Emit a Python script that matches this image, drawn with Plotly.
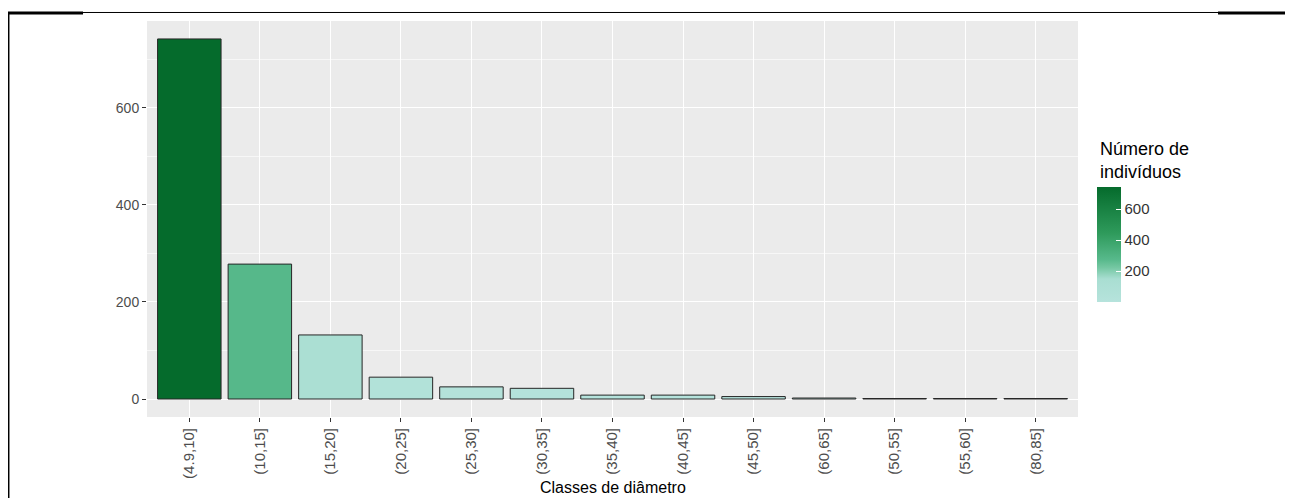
"""Distribuição diamétrica - número de indivíduos por classe de diâmetro
"""

import plotly.graph_objects as go

# dados
classes = ["(4.9,10]", "(10,15]", "(15,20]", "(20,25]", "(25,30]", "(30,35]",
           "(35,40]", "(40,45]", "(45,50]", "(60,65]", "(50,55]", "(55,60]", "(80,85]"]
n_individuos = [742, 278, 132, 45, 25, 22, 8, 8, 5, 2, 1, 1, 1]
cbar_ticks = [200, 400, 600]

FONT = "Liberation Sans, Arial, sans-serif"

escala = [
    [0.0, "#b6e3dc"],
    [0.2, "#a9ded2"],
    [0.3, "#74c7a2"],
    [0.37, "#57b98b"],
    [0.6, "#2e9a5b"],
    [1.0, "#056b2c"],
]

fig = go.Figure(
    data=[
        go.Bar(
            x=classes,
            y=n_individuos,
            width=0.9,
            marker=dict(
                color=n_individuos,
                colorscale=escala,
                cmin=min(n_individuos),
                cmax=max(n_individuos),
                line=dict(color="#262626", width=1),
                showscale=True,
                colorbar=dict(
                    x=1.0204, xanchor="left", xpad=0,
                    y=0.4356, yanchor="middle", ypad=0,
                    thicknessmode="pixels", thickness=24,
                    lenmode="pixels", len=115,
                    outlinewidth=0,
                    tickvals=cbar_ticks,
                    ticks="inside", ticklen=5, tickcolor="white", tickwidth=1,
                    tickfont=dict(family=FONT, size=15, color="#333333"),
                ),
            ),
            hovertemplate="%{x}: %{y}<extra></extra>",
        )
    ]
)

# a página tem margem de 8px no body: figura reduzida para caber
fig.update_layout(
    width=1285,
    height=490,
    margin=dict(l=139, r=215, t=13, b=81),
    paper_bgcolor="white",
    plot_bgcolor="#ebebeb",
    font=dict(family=FONT, color="#4d4d4d"),
    showlegend=False,
    bargap=0.1,
)

fig.update_xaxes(
    type="category",
    range=[-0.6, 12.6],
    showgrid=True, gridcolor="white", gridwidth=1.2,
    ticks="outside", ticklen=4, tickcolor="#333333",
    tickangle=-90,
    tickfont=dict(family=FONT, size=15, color="#4d4d4d"),
    zeroline=False,
    showline=False,
)

fig.update_yaxes(
    range=[-37.1, 779],
    tickvals=[0, 200, 400, 600],
    showgrid=True, gridcolor="white", gridwidth=1.2,
    minor=dict(tickvals=[100, 300, 500, 700], showgrid=True,
               gridcolor="#f7f7f7", gridwidth=0.6),
    ticks="outside", ticklen=4, tickcolor="#333333",
    tickfont=dict(family=FONT, size=14, color="#4d4d4d"),
    zeroline=False,
    showline=False,
)

fig.add_annotation(
    text="Classes de diâmetro", xref="paper", yref="paper",
    x=0.5, y=-0.179, xanchor="center", yanchor="middle",
    showarrow=False, font=dict(family=FONT, size=16, color="black"),
)
fig.add_annotation(
    text="Número de<br>indivíduos", xref="paper", yref="paper",
    x=1.0215, y=0.707, xanchor="left", yanchor="top", align="left",
    showarrow=False, font=dict(family=FONT, size=18, color="black"),
)

# moldura da página (linhas pretas)
fig.add_shape(type="line", xref="paper", yref="paper",
              x0=-0.1493, x1=1.231, y0=1.0215, y1=1.0215,
              line=dict(color="black", width=1))
fig.add_shape(type="line", xref="paper", yref="paper",
              x0=-0.1493, x1=-0.0687, y0=1.0203, y1=1.0203,
              line=dict(color="black", width=3))
fig.add_shape(type="line", xref="paper", yref="paper",
              x0=1.1504, x1=1.231, y0=1.0203, y1=1.0203,
              line=dict(color="black", width=3))
fig.add_shape(type="line", xref="paper", yref="paper",
              x0=-0.1488, x1=-0.1488, y0=1.0215, y1=-0.21,
              line=dict(color="black", width=2))

fig.write_html("out.html")
